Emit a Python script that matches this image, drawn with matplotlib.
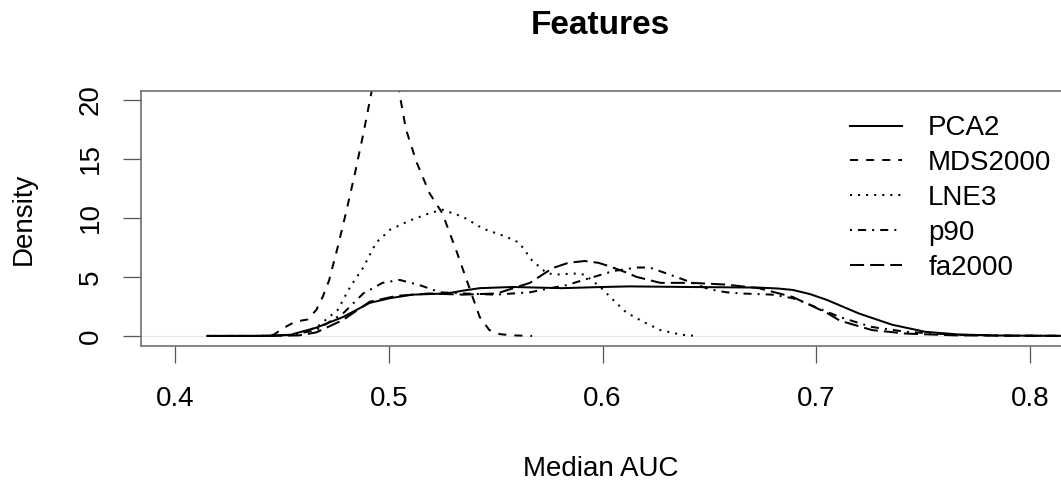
import matplotlib
matplotlib.use("Agg")
import matplotlib.pyplot as plt

# density curves (Median AUC vs Density)
pca2_x = [0.415, 0.440, 0.454, 0.466, 0.4785, 0.491, 0.5005, 0.511, 0.527, 0.535,
          0.5425, 0.558, 0.581, 0.600, 0.6126, 0.640, 0.673, 0.682, 0.689, 0.697,
          0.705, 0.720, 0.7355, 0.751, 0.767, 0.785, 0.800, 0.830]
pca2_y = [0, 0.01, 0.1, 0.7, 1.6, 2.8, 3.2, 3.5, 3.6, 3.85,
          4.05, 4.15, 4.05, 4.15, 4.2, 4.15, 4.1, 4.02, 3.9, 3.55,
          3.05, 1.9, 0.95, 0.35, 0.12, 0.04, 0.02, 0.0]

mds_x = [0.415, 0.440, 0.446, 0.451, 0.456, 0.462, 0.466, 0.469, 0.472, 0.476,
         0.480, 0.484, 0.488, 0.492, 0.495, 0.498, 0.501, 0.5047, 0.508, 0.513,
         0.519, 0.525, 0.532, 0.538, 0.5425, 0.547, 0.552, 0.558, 0.567]
mds_y = [0, 0, 0.1, 0.7, 1.2, 1.4, 2.2, 3.3, 4.7, 7.5,
         10.5, 13.7, 17.1, 20.8, 23.0, 24.0, 23.3, 20.8, 17.5, 14.7,
         12.1, 10.4, 7.0, 3.9, 1.6, 0.5, 0.15, 0.05, 0]

lne3_x = [0.415, 0.445, 0.455, 0.466, 0.476, 0.482, 0.488, 0.494, 0.5005, 0.51,
          0.519, 0.525, 0.5346, 0.544, 0.555, 0.561, 0.567, 0.574, 0.580, 0.586,
          0.5916, 0.5986, 0.605, 0.611, 0.619, 0.627, 0.637, 0.644]
lne3_y = [0, 0, 0.1, 0.7, 2.2, 4.2, 5.8, 7.9, 9.0, 9.8,
          10.4, 10.7, 10.1, 9.1, 8.4, 7.9, 6.4, 5.3, 5.2, 5.3,
          5.2, 4.2, 3.05, 2.0, 1.2, 0.5, 0.1, 0]

p90_x = [0.415, 0.445, 0.455, 0.466, 0.4785, 0.488, 0.497, 0.505, 0.5145, 0.524,
         0.5346, 0.550, 0.566, 0.5785, 0.583, 0.594, 0.605, 0.616, 0.622, 0.6345,
         0.642, 0.650, 0.658, 0.665, 0.6795, 0.689, 0.695, 0.711, 0.726, 0.742,
         0.765, 0.790, 0.830]
p90_y = [0, 0, 0.1, 0.5, 1.9, 3.6, 4.5, 4.75, 4.3, 3.7,
         3.6, 3.5, 3.7, 4.15, 4.3, 4.9, 5.5, 5.8, 5.8, 5.0,
         4.5, 3.95, 3.7, 3.6, 3.5, 3.2, 2.8, 1.6, 0.76, 0.35,
         0.1, 0.03, 0]

fa_x = [0.415, 0.445, 0.458, 0.466, 0.4785, 0.491, 0.5037, 0.519, 0.5346, 0.5505,
        0.566, 0.5766, 0.584, 0.5916, 0.598, 0.6033, 0.610, 0.616, 0.627, 0.642,
        0.658, 0.673, 0.689, 0.705, 0.711, 0.726, 0.742, 0.765, 0.790, 0.830]
fa_y = [0, 0, 0.05, 0.3, 1.35, 2.9, 3.4, 3.6, 3.5, 3.6,
        4.5, 5.75, 6.2, 6.35, 6.2, 5.9, 5.45, 5.0, 4.5, 4.5,
        4.35, 4.05, 3.3, 1.95, 1.3, 0.5, 0.2, 0.05, 0.02, 0]

labels = ["PCA2", "MDS2000", "LNE3", "p90", "fa2000"]
x_ticks = [0.4, 0.5, 0.6, 0.7, 0.8]
y_ticks = [0, 5, 10, 15, 20]

# R lty 1..5
styles = ["-", (0, (4, 4)), (0, (1, 3)), (0, (1, 3, 4, 3)), (0, (7, 3))]

plt.rcParams["font.family"] = ["Liberation Sans", "DejaVu Sans"]
plt.rcParams["font.size"] = 20

fig = plt.figure(figsize=(10.61, 4.82), dpi=100)
ax = fig.add_axes([0.1329, 0.2822, 0.8671, 0.529])

series = [(pca2_x, pca2_y), (mds_x, mds_y), (lne3_x, lne3_y), (p90_x, p90_y), (fa_x, fa_y)]
ax.axhline(0, color="#e6e6e6", linewidth=0.8, zorder=1)
for (xs, ys), lab, ls in zip(series, labels, styles):
    ax.plot(xs, ys, color="black", linewidth=1.45, linestyle=ls, label=lab, zorder=2)

ax.set_xlim(0.384, 0.8145)
ax.set_ylim(-0.85, 20.76)
ax.set_xticks(x_ticks)
ax.set_xticklabels([f"{v:.1f}" for v in x_ticks])
ax.set_yticks(y_ticks)
ax.set_yticklabels([str(v) for v in y_ticks], rotation=90, va="center")

for side in ["left", "top", "bottom"]:
    ax.spines[side].set_color("#707070")
    ax.spines[side].set_linewidth(1.2)
ax.spines["right"].set_visible(False)

ax.tick_params(axis="x", length=12.5, width=0.9, color="#555555", pad=16)
ax.tick_params(axis="y", length=13, width=0.9, color="#555555", pad=14)

ax.set_xlabel("Median AUC", labelpad=32)
ax.set_ylabel("Density", labelpad=29)

leg = ax.legend(loc="upper left", bbox_to_anchor=(0.7708, 0.905), frameon=False,
                handlelength=1.87, handletextpad=0.94, labelspacing=0.32,
                borderaxespad=0, borderpad=0)

fig.text(0.5655, 0.947, "Features", ha="center", va="center",
         fontsize=24, fontweight="bold")

fig.savefig("out.png", dpi=100)
